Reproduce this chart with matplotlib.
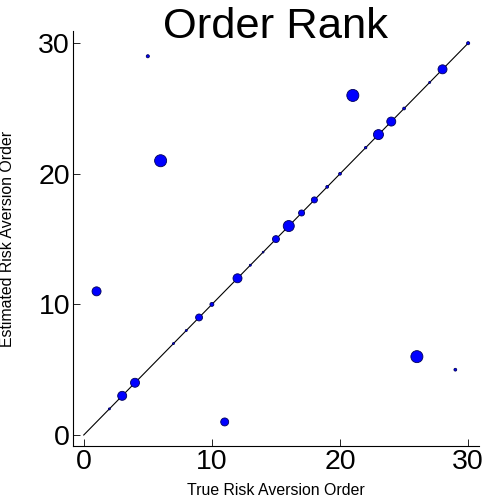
import numpy as np
import matplotlib
matplotlib.use("Agg")
import matplotlib.pyplot as plt

# -------------------------------
# Data
# -------------------------------

true_order = [1, 2, 3, 4, 5, 6, 7, 8, 9, 10,
              11, 12, 13, 14, 15, 16, 17, 18, 19, 20,
              21, 22, 23, 24, 25, 26, 27, 28, 29, 30]

est_order = [11, 2, 3, 4, 29, 21, 7, 8, 9, 10,
             1, 12, 13, 14, 15, 16, 17, 18, 19, 20,
             26, 22, 23, 24, 25, 6, 27, 28, 5, 30]

# marker area (pt^2)
weights = [42, 2, 42, 42, 5, 75, 2, 2, 25, 8,
           33, 42, 2, 1.5, 25, 63, 19, 19, 4, 4,
           75, 3, 52, 42, 4, 75, 2, 42, 4, 5]

tick_vals = [0, 10, 20, 30]

plt.rcParams['font.family'] = ['Liberation Sans', 'DejaVu Sans']

# -------------------------------
# Plot
# -------------------------------

fig = plt.figure(figsize=(4.99, 4.99), dpi=100)
ax = fig.add_axes([0.146, 0.106, 0.814, 0.831])

ax.plot([0, 30], [0, 30], color='black', linewidth=0.8, zorder=1)

ax.scatter(true_order, est_order,
           s=weights,
           facecolor=(0, 0, 1),
           edgecolor=(0, 0, 0.35),
           linewidth=0.6,
           zorder=2)

ax.set_xlim(-0.85, 30.85)
ax.set_ylim(-0.85, 30.9)

ax.set_xticks(tick_vals)
ax.set_yticks(tick_vals)

ax.spines['top'].set_visible(False)
ax.spines['right'].set_visible(False)
ax.spines['left'].set_linewidth(0.8)
ax.spines['bottom'].set_linewidth(0.8)

ax.tick_params(direction='in', length=5, width=0.6, labelsize=20.5, pad=2)

# title sits over the top of the axes, like the original
fig.text(0.552, 1 - 38 / 499, "Order Rank", fontsize=31.3,
         ha='center', va='baseline')

ax.set_xlabel("True Risk Aversion Order", fontsize=11.4)
ax.set_ylabel("Estimated Risk Aversion Order", fontsize=11.4)
ax.xaxis.set_label_coords(0.5, -0.088)
ax.yaxis.set_label_coords(-0.143, 0.5)

fig.savefig("out.png", dpi=100)
